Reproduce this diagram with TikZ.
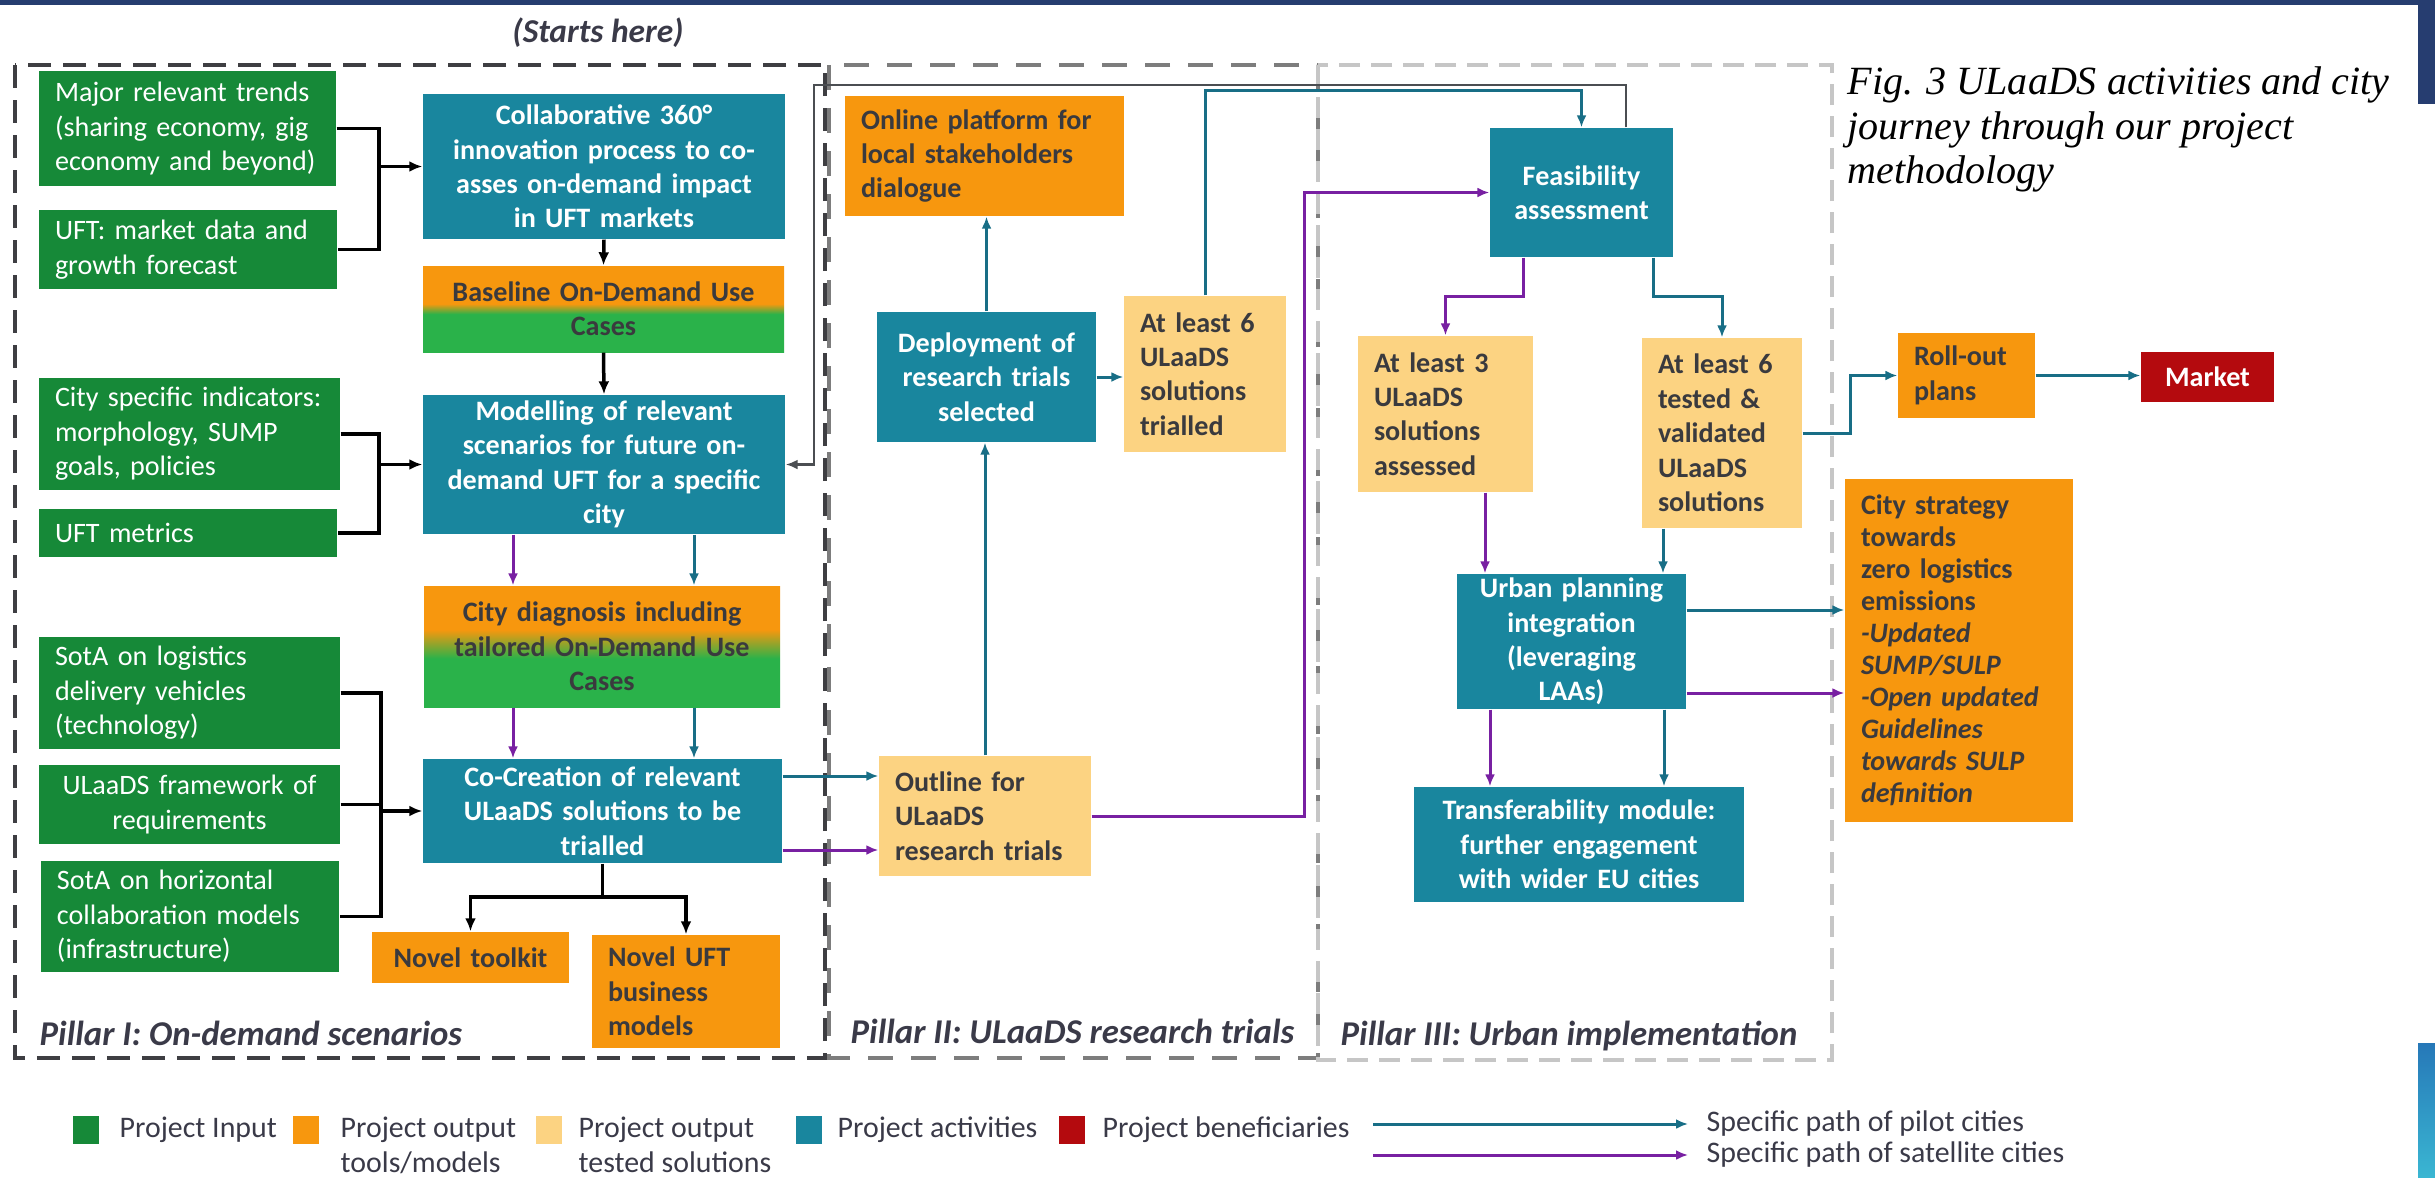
\documentclass[tikz,border=0pt]{standalone}
\usepackage{fontspec}
\setmainfont{Carlito}
\newfontfamily\figfont{Liberation Serif}
\usetikzlibrary{arrows.meta}
\definecolor{gin}{RGB}{22,137,56}
\definecolor{gbright}{RGB}{42,178,74}
\definecolor{pout}{RGB}{247,151,14}
\definecolor{plight}{RGB}{252,211,130}
\definecolor{pact}{RGB}{25,134,158}
\definecolor{pben}{RGB}{180,10,14}
\definecolor{pilotc}{RGB}{24,110,134}
\definecolor{satc}{RGB}{120,32,162}
\definecolor{backc}{RGB}{75,78,82}
\definecolor{txtdark}{RGB}{58,58,62}
\definecolor{labc}{RGB}{58,58,72}
\definecolor{navy}{RGB}{38,61,112}
\definecolor{fr1}{RGB}{62,62,66}
\definecolor{fr2}{RGB}{125,125,125}
\definecolor{fr3}{RGB}{198,198,198}
\definecolor{edgeblue}{RGB}{38,120,184}
\definecolor{edgecyan}{RGB}{58,182,210}
\pgfdeclareverticalshading{baseshade}{100bp}{color(0bp)=(gbright); color(47bp)=(gbright); color(53bp)=(pout); color(100bp)=(pout)}
\pgfdeclareverticalshading{diagshade}{100bp}{color(0bp)=(gbright); color(45bp)=(gbright); color(57bp)=(pout); color(100bp)=(pout)}

\begin{document}
\begin{tikzpicture}[
      boxbase/.style={inner xsep=1.6mm,inner ysep=0pt,font=\fontsize{8}{9.8}\selectfont},
      inbox/.style={boxbase,fill=gin,text=white,align=left},
      actbox/.style={boxbase,fill=pact,text=white,align=center,font=\fontsize{8}{9.8}\selectfont\bfseries},
      toolbox/.style={boxbase,fill=pout,text=txtdark,align=left,font=\fontsize{8}{9.8}\selectfont\bfseries},
      solbox/.style={boxbase,fill=plight,text=txtdark,align=left,font=\fontsize{8}{9.8}\selectfont\bfseries},
      mixbox/.style={boxbase,shade,shading=#1,text=txtdark,align=center,font=\fontsize{8}{9.8}\selectfont\bfseries},
      benbox/.style={boxbase,fill=pben,text=white,align=center,font=\fontsize{8}{9.8}\selectfont\bfseries},
      pillar/.style={inner sep=0pt,anchor=west,text=labc,font=\fontsize{9.9}{11}\selectfont\bfseries\itshape},
      legkey/.style={inner sep=0pt,minimum width=2.6mm,minimum height=2.8mm},
      legtxt/.style={inner sep=0pt,anchor=north west,align=left,text=labc,font=\fontsize{8.5}{10}\selectfont},
      tie/.style={line width=0.35mm,draw=black},
      wire/.style={tie,-{Latex[length=1.3mm,width=1.1mm]}},
      pilot/.style={line width=0.3mm,draw=pilotc,-{Latex[length=1.2mm,width=1mm]}},
      sat/.style={line width=0.3mm,draw=satc,-{Latex[length=1.2mm,width=1mm]}},
      back/.style={line width=0.28mm,draw=backc,-{Latex[length=1.2mm,width=1mm]}}]
      \useasboundingbox (0,0) rectangle (24.35,-11.77);
      \fill[navy] (0,0) rectangle (24.35,-0.05);
      \fill[navy] (24.18,0) rectangle (24.35,-1.04);
      \shade[top color=edgeblue,bottom color=edgecyan] (24.18,-10.43) rectangle (24.35,-11.77);

      \draw[fr1,line width=0.4mm,dash pattern=on 2.3mm off 1.2mm] (0.15,-0.65) rectangle (8.25,-10.58);
      \draw[fr2,line width=0.4mm,dash pattern=on 2.5mm off 1.8mm] (8.29,-0.65) rectangle (13.18,-10.58);
      \draw[fr3,line width=0.4mm,dash pattern=on 2.1mm off 1.1mm] (13.18,-0.65) rectangle (18.32,-10.60);

      \path (5.98,-0.33) node[inner sep=0pt,text=labc,font=\fontsize{9.5}{11}\selectfont\bfseries\itshape] (start) {(Starts here)};
      \path (0.39,-10.33) node[pillar] (lab1) {Pillar I: On-demand scenarios};
      \path (8.50,-10.31) node[pillar] (lab2) {Pillar II: ULaaDS research trials};
      \path (13.40,-10.36) node[pillar] (lab3) {Pillar III: Urban implementation};
      \path (18.47,-0.66) node[anchor=north west,inner sep=0pt,align=left,font=\figfont\itshape\fontsize{11.4}{12.7}\selectfont] (cap) {Fig. 3 ULaaDS activities and city\\journey through our project\\methodology};

      \path (1.875,-1.285) node[inbox,text width=26.5mm,minimum height=11.5mm] (trends) {Major relevant trends\\(sharing economy, gig\\economy and beyond)};
      \path (1.88,-2.495) node[inbox,text width=26.6mm,minimum height=7.9mm] (mdata) {UFT: market data and\\growth forecast};
      \path (1.895,-4.34) node[inbox,text width=26.9mm,minimum height=11.2mm] (cityind) {City specific indicators:\\morphology, SUMP\\goals, policies};
      \path (1.88,-5.33) node[inbox,text width=26.6mm,minimum height=4.8mm] (metrics) {UFT metrics};
      \path (1.895,-6.93) node[inbox,text width=26.9mm,minimum height=11.2mm] (sota1) {SotA on logistics\\delivery vehicles\\(technology)};
      \path (1.895,-8.045) node[inbox,align=center,text width=26.9mm,minimum height=7.9mm] (framework) {ULaaDS framework of\\requirements};
      \path (1.90,-9.165) node[inbox,text width=26.6mm,minimum height=11.1mm] (sota2) {SotA on horizontal\\collaboration models\\(infrastructure)};

      \path (6.04,-1.665) node[actbox,text width=33mm,minimum height=14.5mm] (collab) {Collaborative 360°\\innovation process to co-\\asses on-demand impact\\in UFT markets};
      \path (6.035,-3.09) node[mixbox=baseshade,text width=32.9mm,minimum height=8.6mm] (baseline) {Baseline On-Demand Use\\Cases};
      \path (6.04,-4.645) node[actbox,text width=33mm,minimum height=13.9mm] (modelling) {Modelling of relevant\\scenarios for future on-\\demand UFT for a specific\\city};
      \path (6.02,-6.465) node[mixbox=diagshade,text width=32.4mm,minimum height=12.1mm] (diagnosis) {City diagnosis including\\tailored On-Demand Use\\Cases};
      \path (6.025,-8.11) node[actbox,text width=32.7mm,minimum height=10.4mm] (cocreation) {Co-Creation of relevant\\ULaaDS solutions to be\\trialled};
      \path (4.705,-9.575) node[toolbox,align=center,text width=16.5mm,minimum height=5.1mm] (toolkit) {Novel toolkit};
      \path (6.86,-9.915) node[toolbox,text width=15.6mm,minimum height=11.3mm] (business) {Novel UFT\\business\\models};

      \path (9.845,-1.56) node[toolbox,text width=24.7mm,minimum height=12mm] (online) {Online platform for\\local stakeholders\\dialogue};
      \path (9.865,-3.77) node[actbox,text width=18.7mm,minimum height=13mm] (deploy) {Deployment of\\research trials\\selected};
      \path (12.05,-3.74) node[solbox,text width=13mm,minimum height=15.6mm] (trialled) {At least 6\\ULaaDS\\solutions\\trialled};
      \path (9.85,-8.16) node[solbox,text width=18mm,minimum height=12mm] (outline) {Outline for\\ULaaDS\\research trials};

      \path (15.815,-1.925) node[actbox,text width=15.1mm,minimum height=12.9mm] (feas) {Feasibility\\assessment};
      \path (14.455,-4.14) node[solbox,text width=14.3mm,minimum height=15.6mm] (assessed) {At least 3\\ULaaDS\\solutions\\assessed};
      \path (17.22,-4.33) node[solbox,text width=12.8mm,minimum height=19mm] (validated) {At least 6\\tested \&\\validated\\ULaaDS\\solutions};
      \path (15.715,-6.415) node[actbox,text width=19.7mm,minimum height=13.5mm] (urban) {Urban planning\\integration\\(leveraging\\LAAs)};
      \path (15.79,-8.445) node[actbox,text width=29.8mm,minimum height=11.5mm] (transfer) {Transferability module:\\further engagement\\with wider EU cities};

      \path (19.665,-3.755) node[toolbox,text width=10.5mm,minimum height=8.5mm] (rollout) {Roll-out\\plans};
      \path (22.075,-3.77) node[benbox,text width=10.1mm,minimum height=5mm] (mkt) {Market};
      \path (19.59,-6.505) node[toolbox,text width=19.6mm,minimum height=34.3mm,font=\fontsize{8}{9.1}\selectfont\bfseries] (strategy) {City strategy\\towards\\zero logistics\\emissions\\\textit{-Updated}\\\textit{SUMP/SULP}\\\textit{-Open updated}\\\textit{Guidelines}\\\textit{towards SULP}\\\textit{definition}};

      \coordinate (j1) at (3.79,-1.665);
      \draw[tie] (trends.east) -| (j1) |- (mdata.east);
      \draw[wire] (j1) -- (collab.west);
      \draw[wire] (collab.south) -- (baseline.north);
      \draw[wire] (baseline.south) -- (modelling.north);
      \coordinate (j2) at (3.79,-4.645);
      \draw[tie] (cityind.east) -| (j2) |- (metrics.east);
      \draw[wire] (j2) -- (modelling.west);
      \coordinate (j3) at (3.81,-8.11);
      \draw[tie] (sota1.east) -| (j3) |- (sota2.east);
      \draw[tie] (framework.east) -- (framework.east -| j3);
      \draw[wire] (j3) -- (cocreation.west);
      \coordinate (j4) at (6.025,-8.97);
      \draw[wire] (cocreation.south) -- (j4) -| (toolkit.north);
      \draw[wire] (j4) -| (business.north);

      \coordinate (m1) at ([xshift=9mm]modelling.south);
      \coordinate (m2) at ([xshift=-9.1mm]modelling.south);
      \draw[pilot] (m1) -- (m1 |- diagnosis.north);
      \draw[sat] (m2) -- (m2 |- diagnosis.north);
      \draw[pilot] (m1 |- diagnosis.south) -- (m1 |- cocreation.north);
      \draw[sat] (m2 |- diagnosis.south) -- (m2 |- cocreation.north);
      \coordinate (c1) at ([yshift=3.5mm]cocreation.east);
      \coordinate (c2) at ([yshift=-3.9mm]cocreation.east);
      \draw[pilot] (c1) -- (c1 -| outline.west);
      \draw[sat] (c2) -- (c2 -| outline.west);

      \draw[pilot] (outline.north) -- (outline.north |- deploy.south);
      \draw[pilot] (deploy.north) -- (deploy.north |- online.south);
      \draw[pilot] (deploy.east) -- (deploy.east -| trialled.west);
      \coordinate (t1) at (12.05,-0.90);
      \draw[pilot] (trialled.north) -- (t1) -| (feas.north);
      \coordinate (p1) at (13.04,-1.925);
      \draw[sat] (outline.east) -| (p1) -- (feas.west);
      \coordinate (f1) at (8.14,-0.85);
      \draw[back] ([xshift=4.45mm]feas.north) |- (f1) |- (modelling.east);

      \coordinate (s1) at ([xshift=-5.85mm]feas.south);
      \coordinate (s2) at ([xshift=7.15mm]feas.south);
      \draw[sat] (s1) -- ++(0,-0.39) -| (assessed.north);
      \draw[pilot] (s2) -- ++(0,-0.39) -| (validated.north);
      \coordinate (a1) at ([xshift=3.95mm]assessed.south);
      \coordinate (v1) at ([xshift=-5.9mm]validated.south);
      \draw[sat] (a1) -- (a1 |- urban.north);
      \draw[pilot] (v1) -- (v1 |- urban.north);
      \draw[pilot] (validated.east) -- ++(0.48,0) |- (rollout.west);
      \draw[pilot] (rollout.east) -- (rollout.east -| mkt.west);
      \coordinate (u1) at ([yshift=3.15mm]urban.east);
      \coordinate (u2) at ([yshift=-5.15mm]urban.east);
      \draw[pilot] (u1) -- (u1 -| strategy.west);
      \draw[sat] (u2) -- (u2 -| strategy.west);
      \coordinate (u3) at ([xshift=-8.15mm]urban.south);
      \coordinate (u4) at ([xshift=9.25mm]urban.south);
      \draw[sat] (u3) -- (u3 |- transfer.north);
      \draw[pilot] (u4) -- (u4 |- transfer.north);

      \path (0.86,-11.30) node[legkey,fill=gin] (kin) {};
      \path (3.06,-11.30) node[legkey,fill=pout] (kout) {};
      \path (5.49,-11.30) node[legkey,fill=plight] (ksol) {};
      \path (8.09,-11.30) node[legkey,fill=pact] (kact) {};
      \path (10.72,-11.30) node[legkey,fill=pben] (kben) {};
      \path (1.19,-11.16) node[legtxt] (tin) {Project Input};
      \path (3.40,-11.16) node[legtxt] (tout) {Project output\\tools/models};
      \path (5.78,-11.16) node[legtxt] (tsol) {Project output\\tested solutions};
      \path (8.37,-11.16) node[legtxt] (tact) {Project activities};
      \path (11.02,-11.16) node[legtxt] (tben) {Project beneficiaries};
      \coordinate (l1) at (13.73,-11.24);
      \coordinate (l2) at (13.73,-11.55);
      \path (17.06,-11.24) node[legtxt,anchor=west] (tpilot) {Specific path of pilot cities};
      \path (17.06,-11.55) node[legtxt,anchor=west] (tsat) {Specific path of satellite cities};
      \draw[pilot,shorten >=1.8mm] (l1) -- (tpilot.west);
      \draw[sat,shorten >=1.8mm] (l2) -- (tsat.west);
     \end{tikzpicture}
\end{document}
